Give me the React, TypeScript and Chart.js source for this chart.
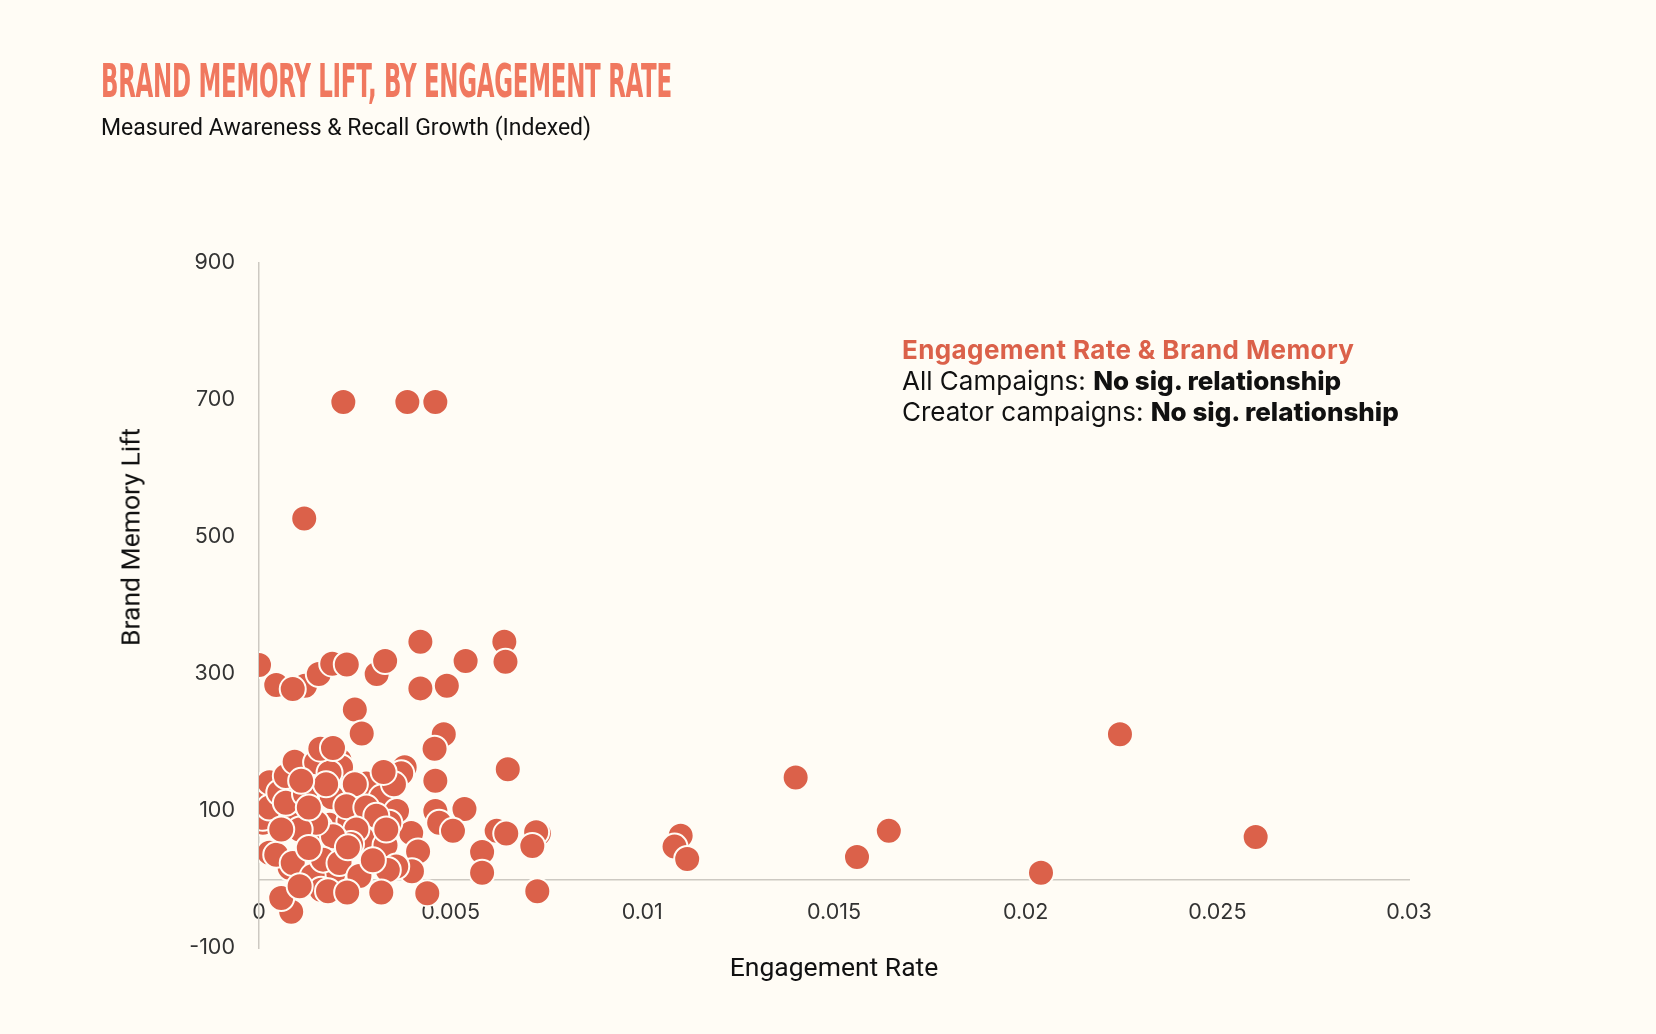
import { useEffect, useLayoutEffect, useRef, useState } from "react";
import { Chart, registerables } from "chart.js";

Chart.register(...registerables);

// engagement rate (x) and brand memory lift (y), one entry per campaign
const engagementRate = [
  0.0022, 0.00387, 0.0046, 0.00118, 0, 0.00045, 0.0012, 0.00088, 0.00156, 0.00191,
  0.00229, 0.00307, 0.00329, 0.00421, 0.00421, 0.0049, 0.00539, 0.0064, 0.00643, 0.0025,
  0.00268, 0.00482, 0.00458, 0.00649, 0.0046, 0.0046, 0.00536, 0.0047, 0.00506, 0.0062,
  0.00645, 0.0073, 0.00723, 0.00713, 0.00582, 0.00582, 0.00726, 0.00397, 0.00415, 0.00399,
  0.00439, 0.011, 0.01084, 0.01117, 0.014, 0.0156, 0.01643, 0.0204, 0.02246, 0.026,
  0.00027, 0.00019, 0.0034, 0.00288, 0.00184, 0.00175, 0.0021, 0.00323, 0.00175, 0.0008,
  0.00193, 0.0028, 0.00236, 0.00088, 0.00158,
  0.0001, 0.00015, 0.0001, 0.00027, 0.00027, 0.00027, 0.00053, 0.0007, 0.0007, 0.00093,
  0.0012, 0.0019, 0.0028, 0.0032, 0.0036, 0.0027, 0.0033, 0.0038, 0.00371, 0.00352,
  0.00325, 0.0034, 0.00214, 0.00149, 0.00184, 0.0016, 0.00193, 0.00175, 0.0025, 0.00228,
  0.0028, 0.00306, 0.00332, 0.00254, 0.002, 0.0024, 0.00193, 0.00149, 0.00106, 0.00045,
  0.00088, 0.0014, 0.00167, 0.0021, 0.00262, 0.00358, 0.00336, 0.00162, 0.0018, 0.0023,
  0.00319, 0.00084, 0.00058, 0.0011, 0.0013, 0.00058, 0.00232, 0.00297, 0.00106, 0.0013,
];

const memoryLift = [
  697, 697, 697, 527, 313, 284, 283, 278, 300, 315,
  314, 300, 319, 347, 279, 283, 319, 347, 318, 248,
  213, 212, 191, 161, 144, 100, 103, 83, 71, 71,
  67, 67, 69, 49, 40, 10, -17, 68, 41, 12,
  -20, 64, 48, 30, 149, 33, 71, 10, 212, 62,
  134, 100, 90, 100, 80, 183, 174, 46, 32, 17,
  7, 66, 85, 80, 76,
  83, 127, 90, 105, 142, 39, 127, 112, 151, 172,
  125, 120, 140, 120, 100, 60, 50, 164, 155, 139,
  157, 83, 164, 171, 156, 191, 192, 139, 139, 107,
  105, 93, 73, 73, 58, 52, 63, 83, 73, 36,
  24, 5, 29, 24, 5, 19, 14, -15, -17, -19,
  -19, -47, -27, 144, 105, 73, 47, 28, -10, 46,
];

const xTicks = [0, 0.005, 0.01, 0.015, 0.02, 0.025, 0.03];
const yTicks = [-100, 100, 300, 500, 700, 900];

const dotColor = "#db614a";
const paper = "#fffcf5";

export default function App() {
  const chartRef = useRef<HTMLCanvasElement | null>(null);
  const chartInstance = useRef<Chart<"scatter"> | null>(null);
  const titleRef = useRef<HTMLSpanElement | null>(null);
  const [titleScale, setTitleScale] = useState(1);

  // squeeze the title to the condensed width of the original
  useLayoutEffect(() => {
    if (!titleRef.current) return;
    const w = titleRef.current.offsetWidth;
    if (w > 0) setTitleScale(571 / w);
  }, []);

  useEffect(() => {
    if (!chartRef.current) return;
    if (chartInstance.current) chartInstance.current.destroy();

    const ctx = chartRef.current.getContext("2d");
    if (!ctx) return;

    chartInstance.current = new Chart(ctx, {
      type: "scatter",
      data: {
        datasets: [
          {
            data: engagementRate.map((x, i) => ({ x, y: memoryLift[i] })),
            backgroundColor: dotColor,
            borderColor: paper,
            borderWidth: 2,
            pointRadius: 13,
            pointHoverRadius: 13,
          },
        ],
      },
      options: {
        animation: false,
        responsive: true,
        maintainAspectRatio: false,
        layout: { padding: { left: 100, right: 247, top: 263, bottom: 86 } },
        plugins: {
          legend: { display: false },
          tooltip: { enabled: false },
        },
        scales: {
          x: {
            type: "linear",
            position: { y: 0 },
            min: 0,
            max: 0.03,
            afterBuildTicks: (scale) => {
              scale.ticks = xTicks.map((value) => ({ value }));
            },
            ticks: {
              callback: (v) => String(v),
              color: "#333",
              padding: 20,
              maxRotation: 0,
              font: { family: "Inter", size: 21.5 },
            },
            grid: { display: false, drawTicks: false },
            border: { display: true, color: "#cdc9c2", width: 1.5 },
            title: {
              display: true,
              text: "Engagement Rate",
              color: "#111",
              font: { family: "Roboto", size: 26.5 },
              padding: { top: 8, bottom: 0 },
            },
          },
          y: {
            type: "linear",
            position: "left",
            min: -100,
            max: 900,
            afterBuildTicks: (scale) => {
              scale.ticks = yTicks.map((value) => ({ value }));
            },
            afterFit: (scale) => {
              scale.width = 159;
            },
            ticks: {
              color: "#333",
              padding: 24,
              font: { family: "Inter", size: 21.5 },
            },
            grid: { display: false, drawTicks: false },
            border: { display: true, color: "#cdc9c2", width: 1.5 },
          },
        },
      },
    });

    return () => {
      chartInstance.current?.destroy();
      chartInstance.current = null;
    };
  }, []);

  return (
    <div
      style={{
        position: "absolute",
        top: 0,
        left: 0,
        width: 1656,
        height: 1034,
        background: paper,
        overflow: "hidden",
      }}
    >
      <div style={{ position: "absolute", inset: 0 }}>
        <canvas ref={chartRef} />
      </div>

      <div
        style={{
          position: "absolute",
          left: 101,
          top: 57,
          whiteSpace: "nowrap",
          transformOrigin: "left top",
          transform: `scaleX(${titleScale})`,
        }}
      >
        <span
          ref={titleRef}
          style={{
            display: "inline-block",
            fontFamily: "'Liberation Sans Narrow', 'DejaVu Sans Condensed', Roboto, sans-serif",
            fontWeight: 700,
            fontSize: 47,
            lineHeight: "47px",
            color: "#f0785f",
            letterSpacing: -0.5,
          }}
        >
          BRAND MEMORY LIFT, BY ENGAGEMENT RATE
        </span>
      </div>

      <div
        style={{
          position: "absolute",
          left: 101,
          top: 116,
          fontFamily: "Roboto, sans-serif",
          fontSize: 23,
          lineHeight: "23px",
          color: "#111",
          whiteSpace: "nowrap",
        }}
      >
        Measured Awareness &amp; Recall Growth (Indexed)
      </div>

      <div
        style={{
          position: "absolute",
          left: 130,
          top: 537,
          transform: "translate(-50%, -50%) rotate(-90deg)",
          fontFamily: "Roboto, sans-serif",
          fontSize: 26.5,
          lineHeight: "27px",
          color: "#111",
          whiteSpace: "nowrap",
        }}
      >
        Brand Memory Lift
      </div>

      <div
        style={{
          position: "absolute",
          left: 902,
          top: 334,
          fontFamily: "Inter, sans-serif",
          fontSize: 26,
          lineHeight: "31px",
          color: "#111",
          whiteSpace: "nowrap",
        }}
      >
        <div style={{ color: dotColor, fontWeight: 700, letterSpacing: 0.4 }}>
          Engagement Rate &amp; Brand Memory
        </div>
        <div>
          All Campaigns: <span style={{ fontWeight: 800 }}>No sig. relationship</span>
        </div>
        <div>
          Creator campaigns: <span style={{ fontWeight: 800 }}>No sig. relationship</span>
        </div>
      </div>
    </div>
  );
}
